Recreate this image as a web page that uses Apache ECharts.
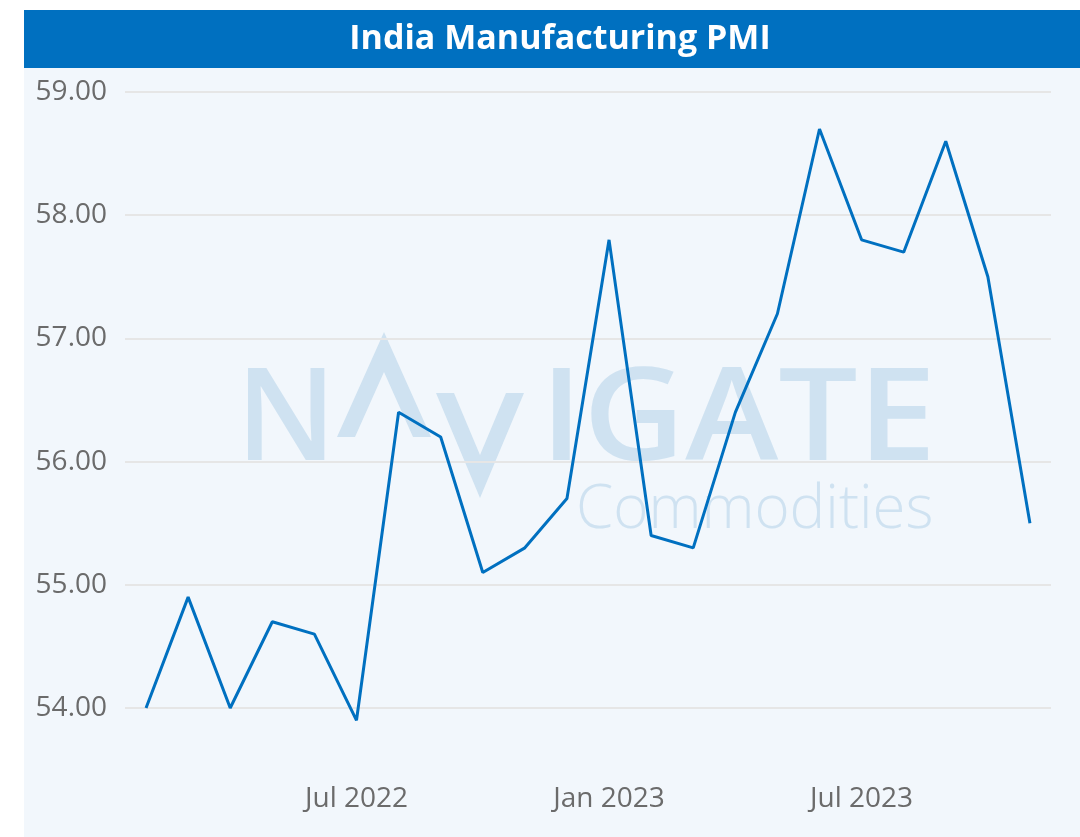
<!DOCTYPE html>
<html>
<head>
<meta charset="utf-8">
<script src="https://cdn.jsdelivr.net/npm/echarts@6/dist/echarts.min.js"></script>
<style>
html,body{margin:0;padding:0;background:#ffffff;}
#chart{width:1080px;height:837px;}
</style>
</head>
<body>
<div id="chart"></div>
<script>
const months = ['Feb 2022','Mar 2022','Apr 2022','May 2022','Jun 2022','Jul 2022','Aug 2022','Sep 2022','Oct 2022','Nov 2022','Dec 2022',
  'Jan 2023','Feb 2023','Mar 2023','Apr 2023','May 2023','Jun 2023','Jul 2023','Aug 2023','Sep 2023','Oct 2023','Nov 2023'];
const pmi = [54.0, 54.9, 54.0, 54.7, 54.6, 53.9, 56.4, 56.2, 55.1, 55.3, 55.7,
  57.8, 55.4, 55.3, 56.4, 57.2, 58.7, 57.8, 57.7, 58.6, 57.5, 55.5];
const shownTicks = ['Jul 2022', 'Jan 2023', 'Jul 2023'];
const titleText = 'India Manufacturing PMI';

const chart = echarts.init(document.getElementById('chart'));
const wm = '#cfe2f1';
chart.setOption({
  backgroundColor: '#ffffff',
  animation: false,
  graphic: [
    { type: 'rect', z: -10, shape: { x: 24, y: 68, width: 1056, height: 769 }, style: { fill: '#f2f7fc' } },
    { type: 'rect', z: -10, shape: { x: 24, y: 10, width: 1056, height: 58 }, style: { fill: '#0070c0' } },
    { type: 'text', z: 5, x: 560, y: 39, style: { text: titleText, fill: '#ffffff', font: 'bold 34px "Open Sans", sans-serif', align: 'center', verticalAlign: 'middle' } },
    // watermark
    { type: 'text', z: 0, x: 236, y: 424, style: { text: 'N', fill: wm, font: '600 128px "Open Sans", sans-serif', verticalAlign: 'middle' } },
    { type: 'polygon', z: 0, shape: { points: [[337, 437], [384, 332], [431, 437], [413, 437], [384, 372], [355, 437]] }, style: { fill: wm } },
    { type: 'polygon', z: 0, shape: { points: [[436, 393], [454, 393], [480, 455], [506, 393], [524, 393], [480, 498]] }, style: { fill: wm } },
    { type: 'text', z: 0, x: 540, y: 424, scaleX: 1.1, style: { text: 'IGATE', fill: wm, font: '600 128px "Open Sans", sans-serif', verticalAlign: 'middle' } },
    { type: 'text', z: 0, x: 576, y: 511, style: { text: 'Commodities', fill: wm, font: '300 60px "Open Sans", sans-serif', verticalAlign: 'middle' } }
  ],
  grid: { left: 125, right: 29, top: 92, bottom: 129 },
  xAxis: {
    type: 'category',
    data: months,
    boundaryGap: true,
    axisLine: { show: false },
    axisTick: { show: false },
    splitLine: { show: false },
    axisLabel: {
      interval: (i, v) => shownTicks.includes(v),
      margin: 77,
      color: '#6b6b6b',
      fontSize: 28,
      fontFamily: '"Open Sans", sans-serif'
    }
  },
  yAxis: {
    type: 'value',
    min: 54, max: 59, interval: 1,
    axisLine: { show: false },
    axisTick: { show: false },
    splitLine: { lineStyle: { color: '#e6e6e6', width: 2 } },
    axisLabel: {
      margin: 18,
      color: '#6b6b6b',
      fontSize: 28,
      fontFamily: '"Open Sans", sans-serif',
      formatter: v => v.toFixed(2)
    }
  },
  series: [{
    type: 'line',
    data: pmi,
    clip: false,
    symbol: 'none',
    z: 10,
    lineStyle: { color: '#0070c0', width: 3 }
  }]
});
</script>
</body>
</html>
